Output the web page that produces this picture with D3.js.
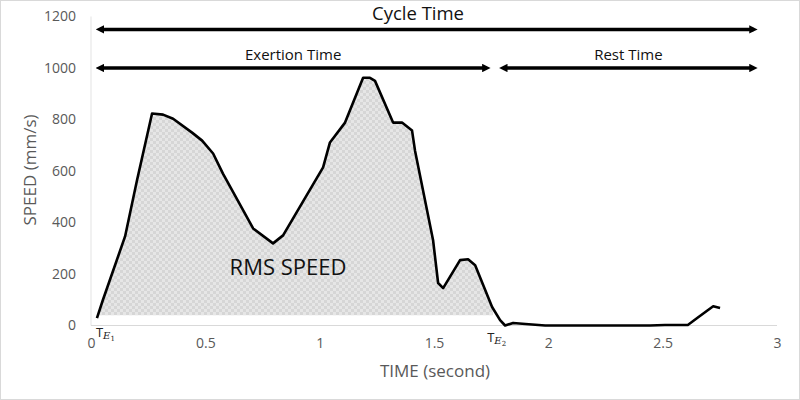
<!DOCTYPE html>
<meta charset="utf-8">
<style>
body { margin: 0; background: #fff; }
text { font-family: "Open Sans", sans-serif; }
.tick text { fill: #595959; font-size: 14px; }
.axis-title { fill: #595959; font-size: 17px; }
.note { fill: #111; }
</style>
<svg width="800" height="400"></svg>
<script src="https://cdn.jsdelivr.net/npm/d3@7"></script>
<script>

// speed trace (time in s, speed in mm/s)
var times  = [0.026, 0.052, 0.149, 0.201, 0.267, 0.315, 0.359, 0.442, 0.486, 0.534, 0.577, 0.709, 0.796, 0.840,
              1.015, 1.045, 1.111, 1.190, 1.220, 1.242, 1.321, 1.360, 1.404, 1.417, 1.496, 1.518, 1.540, 1.614,
              1.649, 1.680, 1.754, 1.789, 1.811, 1.846, 1.900, 1.986, 2.445, 2.510, 2.610, 2.651, 2.721, 2.751];
var speeds = [29, 99, 346, 563, 823, 819, 803, 749, 718, 668, 590, 377, 319, 350,
              614, 711, 788, 962, 962, 950, 788, 788, 757, 679, 331, 165, 145, 254,
              257, 234, 72, 21, 0, 10, 6, 0, 0, 2, 2, 29, 75, 68];

var xTicks = [0, 0.5, 1, 1.5, 2, 2.5, 3];
var yTicks = [0, 200, 400, 600, 800, 1000, 1200];

// shaded exertion area: time range and floor level
var fillStart = 0.026, fillEnd = 1.757, fillFloor = 40;

// span arrows: label, start, end, level
var spanLabels = ["Cycle Time", "Exertion Time", "Rest Time"];
var spanStart  = [0.026, 0.026, 1.79];
var spanEnd    = [2.91, 1.742, 2.91];
var spanLevel  = [1150, 1000, 1000];

var svg = d3.select("svg"),
    width = +svg.attr("width"),
    height = +svg.attr("height");

var x = d3.scaleLinear().domain([0, 3]).range([91, 777]);
var y = d3.scaleLinear().domain([0, 1200]).range([325.5, 16.5]);

var data = times.map(function(t, i) { return {t: t, v: speeds[i]}; });

svg.append("rect")
    .attr("x", 0.5).attr("y", 0.5)
    .attr("width", width - 1).attr("height", height - 1)
    .attr("fill", "#fff").attr("stroke", "#d9d9d9");

var defs = svg.append("defs");

var pat = defs.append("pattern")
    .attr("id", "checks")
    .attr("patternUnits", "userSpaceOnUse")
    .attr("width", 6).attr("height", 6);
pat.append("rect").attr("width", 6).attr("height", 6).attr("fill", "#e6e6e6");
pat.append("rect").attr("width", 3).attr("height", 3).attr("fill", "#d6d6d6");
pat.append("rect").attr("x", 3).attr("y", 3).attr("width", 3).attr("height", 3).attr("fill", "#d6d6d6");

defs.append("marker")
    .attr("id", "head")
    .attr("viewBox", "0 0 10 10")
    .attr("refX", 5).attr("refY", 5)
    .attr("markerWidth", 2.4).attr("markerHeight", 2.4)
    .attr("orient", "auto-start-reverse")
  .append("path")
    .attr("d", "M0,0L10,5L0,10z")
    .attr("fill", "#000");

// axis lines
svg.append("line")
    .attr("x1", x(0)).attr("x2", x(0))
    .attr("y1", y(1200)).attr("y2", y(0))
    .attr("stroke", "#e3e3e3");
svg.append("line")
    .attr("x1", x(0)).attr("x2", x(3))
    .attr("y1", y(0)).attr("y2", y(0))
    .attr("stroke", "#d9d9d9");

var yAxis = svg.append("g")
    .attr("transform", "translate(76,0)")
    .call(d3.axisLeft(y).tickValues(yTicks).tickSize(0).tickPadding(0).tickFormat(d3.format("d")));
yAxis.select(".domain").remove();

var xAxis = svg.append("g")
    .attr("transform", "translate(0," + (y(0) + 13) + ")")
    .call(d3.axisBottom(x).tickValues(xTicks).tickSize(0).tickPadding(0).tickFormat(d3.format("")));
xAxis.select(".domain").remove();

svg.append("text")
    .attr("class", "axis-title")
    .attr("transform", "translate(36,170) rotate(-90)")
    .attr("text-anchor", "middle")
    .text("SPEED (mm/s)");

svg.append("text")
    .attr("class", "axis-title")
    .attr("x", 435).attr("y", 377)
    .attr("text-anchor", "middle")
    .text("TIME (second)");

// shaded area under the exertion part of the trace
var exertion = data.filter(function(d) { return d.t <= fillEnd; });
var endIdx = exertion.length;
var a = data[endIdx - 1], b = data[endIdx];
exertion.push({t: fillEnd, v: a.v + (b.v - a.v) * (fillEnd - a.t) / (b.t - a.t)});

svg.append("path")
    .datum(exertion)
    .attr("fill", "url(#checks)")
    .attr("d", d3.area()
        .x(function(d) { return x(d.t); })
        .y0(y(fillFloor))
        .y1(function(d) { return Math.min(y(d.v), y(fillFloor)); }));

svg.append("path")
    .datum(data)
    .attr("fill", "none")
    .attr("stroke", "#000")
    .attr("stroke-width", 2.6)
    .attr("stroke-linejoin", "round")
    .attr("d", d3.line()
        .x(function(d) { return x(d.t); })
        .y(function(d) { return y(d.v); }));

svg.append("text")
    .attr("class", "note")
    .attr("x", 288).attr("y", 275)
    .attr("text-anchor", "middle")
    .style("font-size", "22px")
    .text("RMS SPEED");

// span arrows with labels
spanLabels.forEach(function(label, i) {
  var x1 = x(spanStart[i]), x2 = x(spanEnd[i]), yy = y(spanLevel[i]);
  svg.append("line")
      .attr("x1", x1 + 3).attr("x2", x2 - 3)
      .attr("y1", yy).attr("y2", yy)
      .attr("stroke", "#000")
      .attr("stroke-width", 3.5)
      .attr("marker-start", "url(#head)")
      .attr("marker-end", "url(#head)");
  var big = i === 0;
  svg.append("text")
      .attr("class", "note")
      .attr("x", big ? 418 : (x1 + x2) / 2)
      .attr("y", yy - (big ? 9 : 8))
      .attr("text-anchor", "middle")
      .style("font-size", big ? "18.5px" : "15px")
      .text(label);
});

// T_E markers under the axis
[[fillStart, "1", 337], [fillEnd - 0.02, "2", 342]].forEach(function(m) {
  var t = svg.append("text")
      .attr("x", x(m[0]) - 1)
      .attr("y", m[2])
      .attr("fill", "#222")
      .style("font-size", "13px");
  t.append("tspan").text("T");
  t.append("tspan")
      .attr("dy", 2)
      .style("font-family", "'DejaVu Serif', serif")
      .style("font-style", "italic")
      .style("font-size", "10px")
      .text("E");
  t.append("tspan")
      .attr("dy", 2)
      .style("font-family", "'DejaVu Serif', serif")
      .style("font-size", "7px")
      .text(m[1]);
});

</script>
